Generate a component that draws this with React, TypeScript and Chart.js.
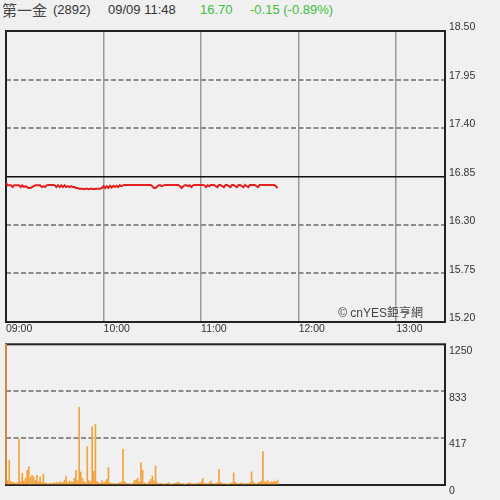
import React, { useEffect, useRef } from "react";
import { Chart, registerables } from "chart.js";

Chart.register(...registerables);

const stockName = "第一金";
const stockCode = "(2892)";
const quoteTime = "09/09 11:48";
const lastPrice = "16.70";
const changeText = "-0.15 (-0.89%)";
const watermark = "© cnYES鉅亨網";

const sessionStartHour = 9;
const sessionMinutes = 270;
const hourTicks = [0, 60, 120, 180, 240];
const priceTicks = [15.2, 15.75, 16.3, 16.85, 17.4, 17.95, 18.5];
const prevClose = 16.85;
const volumeTicks = [0, 417, 833, 1250];

const priceValues = [
  16.78, 16.75, 16.75, 16.75, 16.73, 16.75, 16.75, 16.75, 16.75, 16.73,
  16.75, 16.73, 16.74, 16.73, 16.72, 16.72, 16.73, 16.74, 16.75, 16.75,
  16.75, 16.75, 16.73, 16.74, 16.73, 16.75, 16.755, 16.755, 16.755, 16.755,
  16.75, 16.73, 16.75, 16.73, 16.75, 16.73, 16.75, 16.73, 16.74, 16.73,
  16.74, 16.73, 16.73, 16.72, 16.72, 16.71, 16.71, 16.71, 16.705, 16.71,
  16.71, 16.705, 16.71, 16.71, 16.705, 16.71, 16.71, 16.71, 16.71, 16.72,
  16.74, 16.72, 16.74, 16.72, 16.745, 16.725, 16.745, 16.73, 16.745, 16.73,
  16.75, 16.74, 16.75, 16.755, 16.755, 16.755, 16.755, 16.755, 16.755, 16.755,
  16.755, 16.755, 16.755, 16.755, 16.755, 16.755, 16.755, 16.755, 16.755, 16.755,
  16.74, 16.72, 16.72, 16.74, 16.75, 16.75, 16.74, 16.75, 16.755, 16.755,
  16.755, 16.755, 16.755, 16.755, 16.755, 16.755, 16.755, 16.74, 16.72, 16.74,
  16.75, 16.75, 16.74, 16.75, 16.73, 16.75, 16.755, 16.755, 16.755, 16.755,
  16.755, 16.755, 16.75, 16.73, 16.75, 16.74, 16.755, 16.755, 16.755, 16.74,
  16.73, 16.755, 16.755, 16.74, 16.73, 16.755, 16.755, 16.74, 16.73, 16.755,
  16.755, 16.74, 16.73, 16.755, 16.755, 16.74, 16.73, 16.755, 16.74, 16.73,
  16.755, 16.755, 16.755, 16.755, 16.74, 16.73, 16.755, 16.755, 16.755, 16.755,
  16.755, 16.755, 16.755, 16.755, 16.755, 16.755, 16.74, 16.72,
];

const volumeValues = [
  1250, 40, 218, 30, 25, 20, 15, 22, 408, 30,
  102, 35, 60, 131, 160, 70, 87, 73, 40, 87,
  30, 73, 25, 96, 20, 15, 10, 18, 12, 20,
  15, 25, 18, 30, 20, 25, 45, 80, 20, 35,
  30, 25, 60, 131, 40, 690, 116, 60, 30, 20,
  341, 40, 30, 516, 120, 539, 30, 20, 15, 40,
  20, 30, 50, 155, 20, 15, 10, 12, 10, 15,
  20, 25, 320, 30, 15, 10, 12, 8, 15, 40,
  45, 60, 30, 198, 131, 20, 15, 10, 30, 50,
  80, 40, 169, 20, 10, 15, 12, 8, 10, 15,
  20, 10, 8, 12, 15, 20, 25, 15, 10, 12,
  8, 10, 15, 20, 12, 10, 8, 15, 12, 20,
  25, 58, 15, 10, 12, 20, 35, 15, 10, 12,
  20, 137, 25, 15, 10, 12, 8, 10, 15, 20,
  108, 25, 12, 10, 15, 20, 12, 10, 15, 12,
  20, 117, 30, 15, 10, 20, 25, 35, 297, 30,
  25, 40, 20, 30, 25, 35, 30, 45,
];

const AXIS_FONT = { family: "'Liberation Sans', Arial, sans-serif", size: 10.5 };
const TEXT_COLOR = "#333";
const GRID_GRAY = "#8c8c8c";
const TRANSPARENT = "rgba(0,0,0,0)";

function minuteLabel(m: number): string {
  const total = sessionStartHour * 60 + m;
  const h = Math.floor(total / 60);
  const mm = total % 60;
  return String(h).padStart(2, "0") + ":" + String(mm).padStart(2, "0");
}

const framePlugin = {
  id: "frame",
  beforeDatasetsDraw(chart: any) {
    const { ctx, chartArea: a } = chart;
    ctx.save();
    ctx.strokeStyle = "#222";
    ctx.lineWidth = 2;
    ctx.strokeRect(a.left, a.top, a.right - a.left, a.bottom - a.top);
    ctx.restore();
  },
};

export default function App() {
  const priceRef = useRef<HTMLCanvasElement | null>(null);
  const volRef = useRef<HTMLCanvasElement | null>(null);

  useEffect(() => {
    const priceChart = new Chart(priceRef.current as HTMLCanvasElement, {
      type: "line",
      data: {
        datasets: [
          {
            data: priceValues.map((v, i) => ({ x: i, y: v })),
            borderColor: "#e3201e",
            borderWidth: 2,
            pointRadius: 0,
            tension: 0,
          },
        ],
      },
      options: {
        animation: false,
        responsive: false,
        maintainAspectRatio: false,
        layout: { padding: { top: 11, left: 6, right: 0, bottom: 0 } },
        plugins: { legend: { display: false }, tooltip: { enabled: false } },
        scales: {
          x: {
            type: "linear",
            min: 0,
            max: sessionMinutes,
            position: "bottom",
            offset: false,
            afterBuildTicks: (s: any) => {
              s.ticks = hourTicks.map((v) => ({ value: v }));
            },
            afterFit: (s: any) => {
              s.height = 18;
            },
            ticks: {
              align: "start",
              padding: 1,
              color: TEXT_COLOR,
              font: AXIS_FONT,
              maxRotation: 0,
              autoSkip: false,
              callback: (v: any) => minuteLabel(Number(v)),
            },
            grid: {
              drawTicks: false,
              color: (c: any) => (c.tick && c.tick.value === 0 ? TRANSPARENT : "#9a9a9a"),
              lineWidth: 1.5,
            },
            border: { display: false },
          },
          y: {
            type: "linear",
            position: "right",
            min: priceTicks[0],
            max: priceTicks[priceTicks.length - 1],
            afterBuildTicks: (s: any) => {
              s.ticks = priceTicks.map((v) => ({ value: v }));
            },
            afterFit: (s: any) => {
              s.width = 55;
            },
            ticks: {
              padding: 4,
              labelOffset: -3.5,
              color: TEXT_COLOR,
              font: AXIS_FONT,
              autoSkip: false,
              callback: (v: any) => Number(v).toFixed(2),
            },
            grid: {
              drawTicks: false,
              color: (c: any) => {
                const v = c.tick ? c.tick.value : null;
                if (v === priceTicks[0] || v === priceTicks[priceTicks.length - 1]) return TRANSPARENT;
                if (v === prevClose) return "#111";
                return GRID_GRAY;
              },
              lineWidth: (c: any) => (c.tick && c.tick.value === prevClose ? 1.5 : 2),
            },
            border: {
              display: false,
              dash: (c: any) => (c.tick && c.tick.value === prevClose ? [] : [5, 2.5]),
            },
          },
        },
      },
      plugins: [framePlugin],
    } as any);

    const volChart = new Chart(volRef.current as HTMLCanvasElement, {
      type: "bar",
      data: {
        datasets: [
          {
            data: volumeValues.map((v, i) => ({ x: i, y: v })),
            backgroundColor: "#f4a23c",
            barThickness: 1,
            clip: false,
          },
        ],
      },
      options: {
        animation: false,
        responsive: false,
        maintainAspectRatio: false,
        layout: { padding: { top: 8, left: 6, right: 0, bottom: 15 } },
        plugins: { legend: { display: false }, tooltip: { enabled: false } },
        scales: {
          x: {
            type: "linear",
            min: 0,
            max: sessionMinutes,
            offset: false,
            display: false,
            grid: { offset: false },
          },
          y: {
            type: "linear",
            position: "right",
            min: 0,
            max: volumeTicks[volumeTicks.length - 1],
            afterBuildTicks: (s: any) => {
              s.ticks = volumeTicks.map((v) => ({ value: v }));
            },
            afterFit: (s: any) => {
              s.width = 55;
            },
            ticks: {
              padding: 4,
              labelOffset: 6.5,
              color: TEXT_COLOR,
              font: AXIS_FONT,
              autoSkip: false,
              callback: (v: any) => String(v),
            },
            grid: {
              drawTicks: false,
              color: (c: any) => {
                const v = c.tick ? c.tick.value : null;
                if (v === volumeTicks[0] || v === volumeTicks[volumeTicks.length - 1]) return TRANSPARENT;
                return GRID_GRAY;
              },
              lineWidth: 2,
            },
            border: { display: false, dash: [5, 2.5] },
          },
        },
      },
      plugins: [framePlugin],
    } as any);

    return () => {
      priceChart.destroy();
      volChart.destroy();
    };
  }, []);

  const headerBase: React.CSSProperties = {
    position: "absolute",
    top: 2,
    lineHeight: "16px",
    fontFamily: "'Liberation Sans', Arial, sans-serif",
    fontSize: 13,
    color: "#333",
    whiteSpace: "nowrap",
  };

  return (
    <div
      style={{
        position: "fixed",
        left: 0,
        top: 0,
        width: 500,
        height: 500,
        background: "#f0f0f0",
        overflow: "hidden",
      }}
    >
      <div style={{ ...headerBase, left: 2, fontSize: 15, fontFamily: "'Noto Sans CJK TC', sans-serif", top: 1, lineHeight: "18px", color: "#444" }}>
        {stockName}
      </div>
      <div style={{ ...headerBase, left: 53 }}>{stockCode}</div>
      <div style={{ ...headerBase, left: 108 }}>{quoteTime}</div>
      <div style={{ ...headerBase, left: 200, color: "#3fbf3f" }}>{lastPrice}</div>
      <div style={{ ...headerBase, left: 250, color: "#3fbf3f" }}>{changeText}</div>
      <canvas
        ref={priceRef}
        width={500}
        height={320}
        style={{ position: "absolute", left: 0, top: 20, width: 500, height: 320 }}
      />
      <canvas
        ref={volRef}
        width={500}
        height={166}
        style={{ position: "absolute", left: 0, top: 334, width: 500, height: 166 }}
      />
      <div
        style={{
          position: "absolute",
          left: 300,
          width: 123,
          top: 306,
          textAlign: "right",
          fontFamily: "'Liberation Sans', Arial, 'Noto Sans CJK TC', sans-serif",
          fontSize: 12,
          lineHeight: "15px",
          color: "#444",
          whiteSpace: "nowrap",
        }}
      >
        {watermark}
      </div>
    </div>
  );
}
